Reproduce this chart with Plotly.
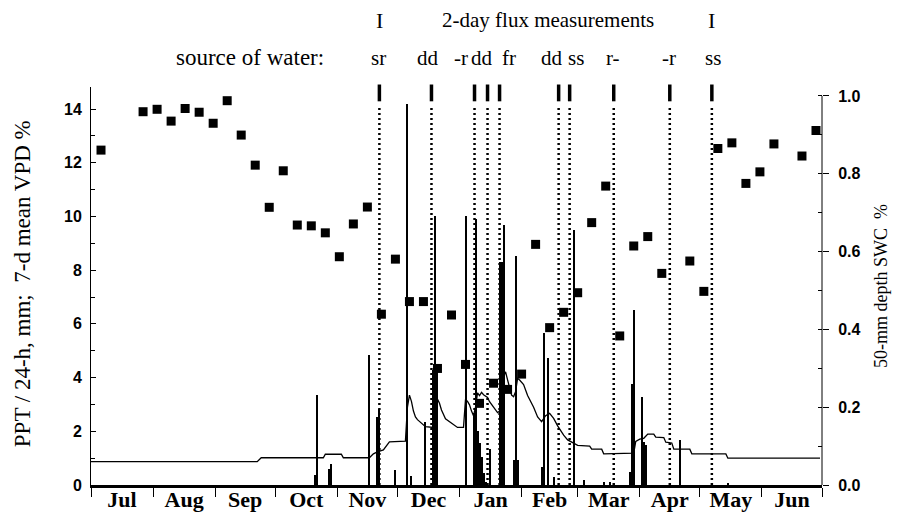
import plotly.graph_objects as go

# ---------------- data ----------------
vpd_dates = ["2002-07-06", "2002-07-27", "2002-08-03", "2002-08-10", "2002-08-17", "2002-08-24",
             "2002-08-31", "2002-09-07", "2002-09-14", "2002-09-21", "2002-09-28", "2002-10-05",
             "2002-10-12", "2002-10-19", "2002-10-26", "2002-11-02", "2002-11-09", "2002-11-16",
             "2002-11-23", "2002-11-30", "2002-12-07", "2002-12-14", "2002-12-21", "2002-12-28",
             "2003-01-04", "2003-01-11", "2003-01-18", "2003-01-25", "2003-02-01", "2003-02-08",
             "2003-02-15", "2003-02-22", "2003-03-01", "2003-03-08", "2003-03-15", "2003-03-22",
             "2003-03-29", "2003-04-05", "2003-04-12", "2003-04-26", "2003-05-03", "2003-05-10",
             "2003-05-17", "2003-05-24", "2003-05-31", "2003-06-07", "2003-06-21", "2003-06-28"]
vpd_values = [12.47, 13.90, 13.99, 13.55, 14.02, 13.88,
              13.47, 14.31, 13.03, 11.91, 10.34, 11.70,
              9.68, 9.65, 9.39, 8.50, 9.72, 10.35,
              6.36, 8.41, 6.83, 6.83, 4.34, 6.33,
              4.49, 3.04, 3.79, 3.56, 4.13, 8.96,
              5.86, 6.43, 7.16, 9.77, 11.13, 5.55,
              8.90, 9.25, 7.88, 8.34, 7.21, 12.53,
              12.74, 11.23, 11.66, 12.70, 12.25, 13.20]

ppt_dates = ["2002-10-21", "2002-10-22", "2002-10-28", "2002-10-29", "2002-11-17", "2002-11-21",
             "2002-11-22", "2002-11-30", "2002-12-06", "2002-12-08", "2002-12-15", "2002-12-19",
             "2002-12-20", "2002-12-21", "2003-01-04", "2003-01-08", "2003-01-09", "2003-01-10",
             "2003-01-11", "2003-01-12", "2003-01-13", "2003-01-14", "2003-01-16", "2003-01-21",
             "2003-01-22", "2003-01-23", "2003-01-28", "2003-01-29", "2003-01-30", "2003-02-11",
             "2003-02-12", "2003-02-14", "2003-02-17", "2003-02-27", "2003-03-04", "2003-03-14",
             "2003-03-17", "2003-03-27", "2003-03-28", "2003-03-29", "2003-04-02", "2003-04-03",
             "2003-04-04", "2003-04-21", "2003-05-15"]
ppt_values = [0.37, 3.35, 0.6, 0.8, 4.84, 2.54,
              2.83, 0.56, 14.17, 0.35, 2.36, 4.3,
              10.0, 4.3, 10.0, 2.6, 9.9, 2.0,
              1.56, 1.05, 0.45, 0.12, 1.34, 8.3,
              8.3, 9.7, 0.93, 8.53, 0.93, 0.68,
              5.65, 4.72, 0.3, 9.49, 0.18, 0.1,
              0.1, 0.5, 3.76, 6.52, 3.26, 1.61,
              1.5, 1.67, 0.07]

swc_dates = ["2002-07-01", "2002-09-22", "2002-09-24", "2002-10-25", "2002-10-26", "2002-11-03",
             "2002-11-04", "2002-11-17", "2002-11-19", "2002-11-21", "2002-11-24", "2002-11-26",
             "2002-11-27", "2002-12-05", "2002-12-06", "2002-12-07", "2002-12-08", "2002-12-09",
             "2002-12-10", "2002-12-11", "2002-12-13", "2002-12-15", "2002-12-19", "2002-12-20",
             "2002-12-22", "2002-12-23", "2002-12-25", "2002-12-27", "2002-12-29", "2002-12-31",
             "2003-01-03", "2003-01-04", "2003-01-05", "2003-01-06", "2003-01-07", "2003-01-08",
             "2003-01-09", "2003-01-10", "2003-01-11", "2003-01-12", "2003-01-13", "2003-01-15",
             "2003-01-16", "2003-01-18", "2003-01-20", "2003-01-21", "2003-01-22", "2003-01-23",
             "2003-01-24", "2003-01-25", "2003-01-27", "2003-01-28", "2003-01-29", "2003-01-30",
             "2003-01-31", "2003-02-02", "2003-02-04", "2003-02-07", "2003-02-09", "2003-02-11",
             "2003-02-12", "2003-02-13", "2003-02-15", "2003-02-17", "2003-02-19", "2003-02-22",
             "2003-02-24", "2003-02-27", "2003-03-01", "2003-03-07", "2003-03-08", "2003-03-13",
             "2003-03-14", "2003-03-29", "2003-03-30", "2003-04-01", "2003-04-03", "2003-04-05",
             "2003-04-08", "2003-04-09", "2003-04-13", "2003-04-14", "2003-04-17", "2003-04-18",
             "2003-04-26", "2003-04-27", "2003-05-14", "2003-05-15", "2003-06-30"]
swc_values = [0.06, 0.06, 0.07, 0.07, 0.079, 0.079,
              0.07, 0.07, 0.08, 0.085, 0.09, 0.105,
              0.111, 0.113, 0.2, 0.231, 0.215, 0.19,
              0.175, 0.168, 0.159, 0.15, 0.148, 0.231,
              0.21, 0.193, 0.17, 0.163, 0.155, 0.148,
              0.148, 0.22, 0.215, 0.206, 0.19, 0.178,
              0.2, 0.237, 0.23, 0.238, 0.232, 0.225,
              0.214, 0.2, 0.186, 0.19, 0.26, 0.278,
              0.291, 0.27, 0.231, 0.227, 0.24, 0.274,
              0.27, 0.258, 0.23, 0.2, 0.175, 0.163,
              0.17, 0.178, 0.184, 0.171, 0.152, 0.128,
              0.116, 0.108, 0.102, 0.10, 0.092, 0.092,
              0.08, 0.082, 0.112, 0.118, 0.12, 0.131,
              0.131, 0.123, 0.122, 0.11, 0.108, 0.092,
              0.092, 0.08, 0.08, 0.069, 0.069]

flux_dates = ["2002-11-22", "2002-12-18", "2003-01-08 12:00", "2003-01-15", "2003-01-21",
              "2003-02-19 12:00", "2003-02-25", "2003-03-19", "2003-04-16", "2003-05-07"]
water_source = ["sr", "dd", "-r", "dd", "fr", "dd", "ss", "r-", "-r", "ss"]
label_shift = [-1, -3, -14, -6, 9, -7, 6, -1, -1, 1]

SERIF = "Liberation Serif"
SANS = "Liberation Sans"
DAY_MS = 86400000

fig = go.Figure()

fig.add_trace(go.Bar(x=ppt_dates, y=ppt_values, width=DAY_MS, marker=dict(color="black", line=dict(width=0)),
                     yaxis="y", showlegend=False))
fig.add_trace(go.Scatter(x=swc_dates, y=swc_values, mode="lines", line=dict(color="black", width=1.3),
                         yaxis="y2", showlegend=False))
fig.add_trace(go.Scatter(x=vpd_dates, y=vpd_values, mode="markers",
                         marker=dict(symbol="square", size=9, color="black"),
                         yaxis="y", showlegend=False))
# thick top markers of flux measurement dates
fig.add_trace(go.Scatter(x=flux_dates, y=[14.6] * len(flux_dates), mode="markers",
                         marker=dict(symbol="line-ns", size=12, line=dict(width=3.5, color="black")),
                         yaxis="y", showlegend=False, cliponaxis=False))

shapes = []
for d in flux_dates:
    shapes.append(dict(type="line", xref="x", yref="y", x0=d, x1=d, y0=0, y1=14.15,
                       line=dict(color="black", width=2.5, dash="2px,3px"), layer="above"))
# right axis line from 0 to 1.0
shapes.append(dict(type="line", xref="paper", yref="y2", x0=1, x1=1, y0=0, y1=1,
                   line=dict(color="black", width=1)))

TXT = dict(family=SERIF, size=22, color="black")
annotations = []
for d, s, sh in zip(flux_dates, water_source, label_shift):
    annotations.append(dict(x=d, y=1.073, xref="x", yref="paper", text=s, showarrow=False,
                            xshift=sh, xanchor="center", yanchor="middle",
                            font=dict(family=SERIF, size=21, color="black")))
annotations.append(dict(x=0.3215, y=1.073, xref="paper", yref="paper", text="source of water:",
                        showarrow=False, xanchor="right", yanchor="middle",
                        font=dict(family=SERIF, size=23, color="black")))
annotations.append(dict(x=flux_dates[0], y=1.168, xref="x", yref="paper", text="I", showarrow=False,
                        xanchor="center", yanchor="middle", font=TXT))
annotations.append(dict(x=flux_dates[-1], y=1.168, xref="x", yref="paper", text="I", showarrow=False,
                        xanchor="center", yanchor="middle", font=TXT))
annotations.append(dict(x=0.625, y=1.168, xref="paper", yref="paper", text="2-day flux measurements",
                        showarrow=False, xanchor="center", yanchor="middle",
                        font=dict(family=SERIF, size=21, color="black")))
annotations.append(dict(x=-0.0944, y=0.507, xref="paper", yref="paper",
                        text="PPT / 24-h, mm;  7-d mean VPD %", textangle=-90, showarrow=False,
                        xanchor="center", yanchor="middle",
                        font=dict(family=SERIF, size=23, color="black")))
annotations.append(dict(x=1.0807, y=0.5, xref="paper", yref="paper",
                        text="50-mm depth SWC  %", textangle=-90, showarrow=False,
                        xanchor="center", yanchor="middle",
                        font=dict(family=SERIF, size=18, color="black")))

fig.update_layout(
    width=905, height=516,
    margin=dict(l=83, r=91, t=79, b=39),
    paper_bgcolor="white", plot_bgcolor="white",
    bargap=0,
    shapes=shapes, annotations=annotations,
    xaxis=dict(type="date", range=["2002-07-01", "2003-07-01"], dtick="M1", tick0="2002-07-01",
               ticklabelmode="period", tickformat="%b", showgrid=False, zeroline=False,
               showline=True, linewidth=3, linecolor="black", automargin=False,
               ticks="outside", ticklen=9, tickwidth=1, tickcolor="black", ticklabelstandoff=-16,
               tickfont=dict(family=SERIF, size=22, color="black", weight="bold")),
    yaxis=dict(range=[0, 14.82], tickvals=[0, 2, 4, 6, 8, 10, 12, 14], showgrid=False, zeroline=False,
               showline=True, linewidth=1, linecolor="black", automargin=False,
               ticks="inside", ticklen=5, tickcolor="black", ticklabelstandoff=5,
               minor=dict(dtick=1, ticks="inside", ticklen=4, tickcolor="black"),
               tickfont=dict(family=SANS, size=16, color="black", weight="bold")),
    yaxis2=dict(range=[0, 1.023], overlaying="y", side="right", tickvals=[0, 0.2, 0.4, 0.6, 0.8, 1.0],
                tickformat=".1f", showgrid=False, zeroline=False, showline=False, automargin=False,
                ticks="outside", ticklen=6, tickcolor="black", ticklabelstandoff=6,
                minor=dict(dtick=0.1, ticks="inside", ticklen=4, tickcolor="black"),
                tickfont=dict(family=SANS, size=16, color="black", weight="bold")),
)

fig.write_html("out.html")
